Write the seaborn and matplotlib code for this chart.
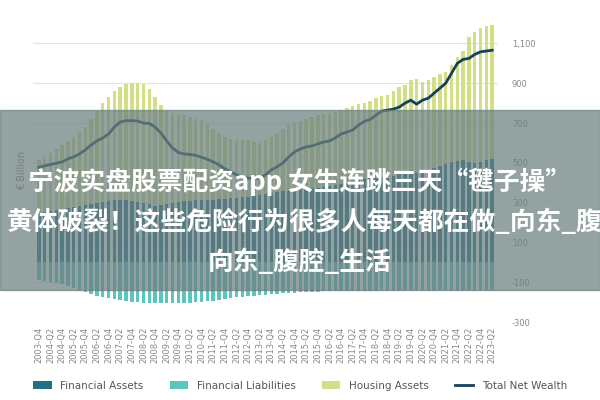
import numpy as np
import pandas as pd
import matplotlib.pyplot as plt
import seaborn as sns

# quarters 2003-Q4 .. 2023-Q2
quarters = []
for y in range(2003, 2024):
    for q in range(1, 5):
        quarters.append(f"{y}-Q{q}")
quarters = quarters[quarters.index("2003-Q4"):quarters.index("2023-Q2") + 1]

# top of housing bars (financial + housing assets)
housing_top = [513, 530, 550, 570, 590, 610, 630, 655, 680, 720, 760, 800, 832, 860, 883, 895,
               900, 900, 895, 870, 830, 790, 760, 750, 745, 740, 730, 722, 715, 695, 670, 650,
               630, 622, 615, 618, 614, 605, 600, 615, 630, 645, 670, 690, 700, 710, 720, 730,
               740, 745, 750, 758, 765, 775, 785, 795, 800, 812, 825, 835, 840, 860, 880, 891,
               916, 920, 905, 915, 930, 945, 957, 990, 1032, 1060, 1133, 1160, 1178, 1190, 1193]
financial_assets = [250, 255, 260, 265, 270, 275, 280, 285, 290, 295, 300, 305, 310, 312, 315, 312,
                    310, 305, 300, 292, 285, 290, 295, 300, 305, 308, 310, 312, 315, 315, 315, 318,
                    320, 322, 325, 327, 330, 333, 337, 342, 347, 352, 356, 360, 365, 368, 370, 372,
                    375, 380, 385, 390, 395, 400, 408, 415, 420, 425, 430, 430, 425, 435, 445, 455,
                    462, 450, 455, 465, 475, 485, 495, 505, 510, 515, 505, 500, 505, 512, 520]
financial_liabilities = [-90, -95, -100, -105, -110, -120, -130, -140, -150, -160, -168, -175, -180,
                         -185, -190, -195, -198, -200, -203, -205, -206, -206, -206, -205, -205,
                         -204, -203, -200, -198, -195, -192, -188, -185, -180, -176, -172, -170,
                         -167, -165, -162, -160, -158, -156, -154, -152, -150, -149, -148, -147,
                         -146, -145, -145, -144, -144, -143, -143, -142, -142, -142, -141, -141,
                         -141, -141, -141, -141, -141, -141, -141, -141, -141, -141, -141, -141,
                         -141, -141, -141, -141, -141, -141]
net_wealth = [478, 485, 492, 498, 505, 520, 530, 545, 565, 590, 610, 625, 645, 680, 705, 712,
              712, 710, 700, 698, 680, 650, 610, 575, 552, 545, 542, 538, 528, 518, 505, 490,
              470, 455, 440, 430, 423, 420, 425, 440, 465, 480, 500, 530, 555, 570, 580, 585,
              595, 605, 610, 625, 645, 655, 665, 690, 708, 718, 740, 760, 765, 770, 780, 800,
              815, 795, 815, 825, 850, 875, 900, 950, 1000, 1020, 1025, 1045, 1058, 1062, 1066]

c_fa, c_fl, c_ha, c_nw = "#1f7089", "#5ec4c0", "#d2df86", "#17415a"

df = pd.DataFrame({"q": quarters, "top": housing_top, "fa": financial_assets,
                   "fl": financial_liabilities, "nw": net_wealth})
df["i"] = np.arange(len(df))

fig = plt.figure(figsize=(6, 4), dpi=100)
ax = fig.add_axes([0.055, 0.195, 0.775, 0.756])
for v in [1100, 900, 700, 500, 300, 100, -100, -300]:
    ax.axhline(v, color="#e3e3e3", lw=0.8, zorder=0)
sns.barplot(data=df, x="q", y="top", color=c_ha, width=0.6, saturation=1, ax=ax, label="Housing Assets", zorder=2)
sns.barplot(data=df, x="q", y="fa", color=c_fa, width=0.6, saturation=1, ax=ax, label="Financial Assets", zorder=3)
sns.barplot(data=df, x="q", y="fl", color=c_fl, width=0.6, saturation=1, ax=ax, label="Financial Liabilities", zorder=3)
sns.lineplot(data=df, x="i", y="nw", color=c_nw, lw=2, ax=ax, label="Total Net Wealth", zorder=4)

ax.set_ylim(-300, 1220)
ax.set_xlim(-1, len(df))
ax.yaxis.tick_right()
ax.set_yticks([1100, 900, 700, 500, 300, 100, -100, -300])
ax.set_yticklabels(["1,100", "900", "700", "500", "300", "100", "-100", "-300"])
ax.set_xticks(df["i"][::2])
ax.set_xticklabels(df["q"][::2], rotation=90)
ax.tick_params(axis="both", length=0, labelsize=6, colors="#888888")
ax.tick_params(axis="y", pad=10)
ax.set_xlabel("")
ax.set_ylabel("€ Billion", color="#888888", fontsize=7)
for s in ax.spines.values():
    s.set_visible(False)

h, l = ax.get_legend_handles_labels()
order = ["Financial Assets", "Financial Liabilities", "Housing Assets", "Total Net Wealth"]
hh = [h[l.index(o)] for o in order]
ax.legend(hh, order, loc="lower center", bbox_to_anchor=(0.5, 0.0), bbox_transform=fig.transFigure,
          ncol=4, frameon=False, fontsize=7.5, handlelength=1.8, columnspacing=2.5, labelcolor="#555555")

# overlay banner
fig.patches.append(plt.Rectangle((0, 1 - 290 / 400), 1, 180 / 400, transform=fig.transFigure,
                                 color="#6b7f7f", alpha=0.72, zorder=10))
font = "Noto Sans CJK SC"
lines = ["宁波实盘股票配资app 女生连跳三天“毽子操”",
         "黄体破裂！这些危险行为很多人每天都在做_向东_腹腔",
         "向东_腹腔_生活"]
for t, x, y in zip(lines, [0.5, 0.53, 0.5], [182, 222, 262]):
    fig.text(x, 1 - y / 400, t, ha="center", va="center", color="white",
             fontsize=18.5, fontweight="bold", family=font, zorder=11)

fig.savefig("out.png", dpi=100)
